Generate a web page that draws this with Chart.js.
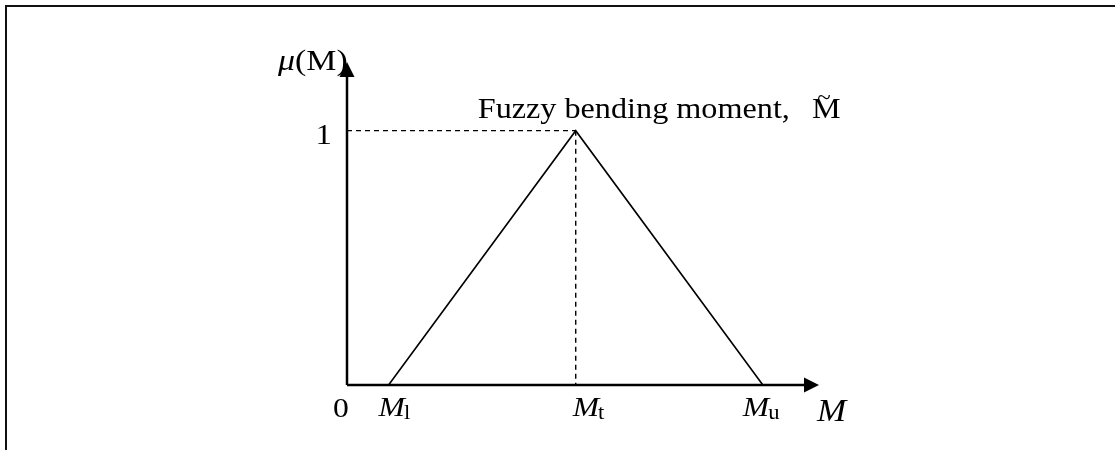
<!DOCTYPE html>
<html>
<head>
<meta charset="utf-8">
<script src="https://cdn.jsdelivr.net/npm/chart.js@4.4.0/dist/chart.umd.min.js"></script>
<style>
  body { margin: 0; background: #fff; }
  #wrap { position: relative; width: 1115px; height: 450px; }
  #frame { position: absolute; left: 5px; top: 5px; right: 0; bottom: 0;
           border-top: 2px solid #111; border-left: 2px solid #111; pointer-events: none; }
  canvas { position: absolute; left: 0; top: 0; }
</style>
</head>
<body>
<div id="wrap">
  <canvas id="chart" width="1115" height="450"></canvas>
  <div id="frame"></div>
</div>
<script>
// fuzzy triangular number (lower, top, upper) in arbitrary units of M
const mLower = 1;
const mTop = 5.5;
const mUpper = 10;
const xMax = 11.35;
const yMax = 1.27;

const triangleX = [mLower, mTop, mUpper];
const triangleY = [0, 1, 0];

const tickValues = [0, mLower, mTop, mUpper];
const tickMain = ["0", "M", "M", "M"];
const tickSub = ["", "l", "t", "u"];
const tickShift = [-14, -10, -3, -20]; // where each label starts, relative to its tick

const titleText = "Fuzzy bending moment,";
const serif = '"Liberation Serif", "Times New Roman", serif';
const stretch = 1.13;

function toPoints(xs, ys) {
  return xs.map((v, i) => ({ x: v, y: ys[i] }));
}

function drawText(ctx, txt, px, py, font, align) {
  ctx.save();
  ctx.font = font;
  ctx.textAlign = align || "left";
  ctx.textBaseline = "alphabetic";
  ctx.translate(px, py);
  ctx.scale(stretch, 1);
  ctx.fillText(txt, 0, 0);
  const w = ctx.measureText(txt).width * stretch;
  ctx.restore();
  return w;
}

const decorPlugin = {
  id: "decor",
  afterDatasetsDraw(chart) {
    const { ctx, scales: { x, y } } = chart;
    const x0 = x.getPixelForValue(0);
    const y0 = y.getPixelForValue(0);
    const xEnd = x.getPixelForValue(xMax);
    const yEnd = y.getPixelForValue(yMax);
    ctx.save();
    ctx.fillStyle = "#000";

    // arrow heads
    ctx.beginPath();
    ctx.moveTo(xEnd, y0);
    ctx.lineTo(xEnd - 15, y0 - 7.5);
    ctx.lineTo(xEnd - 15, y0 + 7.5);
    ctx.closePath();
    ctx.fill();
    ctx.beginPath();
    ctx.moveTo(x0, yEnd);
    ctx.lineTo(x0 - 7.5, yEnd + 15);
    ctx.lineTo(x0 + 7.5, yEnd + 15);
    ctx.closePath();
    ctx.fill();

    // x tick labels
    tickValues.forEach((v, i) => {
      const px = x.getPixelForValue(v) + tickShift[i];
      if (tickSub[i] === "") {
        drawText(ctx, tickMain[i], px, 417, "28px " + serif);
      } else {
        const w = drawText(ctx, tickMain[i], px, 416, "italic 28px " + serif);
        drawText(ctx, tickSub[i], px + w - 1, 419, "20px " + serif);
      }
    });
    drawText(ctx, "M", xEnd - 2, 421, "italic 31px " + serif);

    // y labels
    drawText(ctx, "1", x0 - 15, y.getPixelForValue(1) + 13, "29px " + serif, "right");
    const w = drawText(ctx, "\u03bc", x0 - 69, 70, "italic 30px " + serif);
    drawText(ctx, "(M)", x0 - 69 + w, 70, "30px " + serif);

    // title
    const tx = x.getPixelForValue(mTop) - 98;
    drawText(ctx, titleText, tx, 118, "28.5px " + serif);
    const mx = 812;
    drawText(ctx, "M", mx, 118, "28.5px " + serif);
    drawText(ctx, "~", mx + 12, 104, "22px " + serif, "center");
    ctx.restore();
  }
};

const chart = new Chart(document.getElementById("chart"), {
  type: "scatter",
  data: {
    datasets: [
      { data: toPoints(triangleX, triangleY), showLine: true, borderColor: "#000", borderWidth: 1.6, pointRadius: 0 },
      { data: toPoints([0, mTop], [1, 1]), showLine: true, borderColor: "#000", borderWidth: 1.4, borderDash: [5, 4], pointRadius: 0 },
      { data: toPoints([mTop, mTop], [1, 0]), showLine: true, borderColor: "#000", borderWidth: 1.4, borderDash: [5, 4], pointRadius: 0 },
      { data: toPoints([0, xMax - 0.3], [0, 0]), showLine: true, borderColor: "#000", borderWidth: 2.5, pointRadius: 0 },
      { data: toPoints([0, 0], [0, yMax - 0.05]), showLine: true, borderColor: "#000", borderWidth: 2.5, pointRadius: 0 }
    ]
  },
  options: {
    responsive: false,
    animation: false,
    events: [],
    layout: { padding: { left: 347, right: 296, top: 62, bottom: 65 } },
    plugins: { legend: { display: false }, tooltip: { enabled: false } },
    scales: {
      x: { type: "linear", min: 0, max: xMax, display: false },
      y: { type: "linear", min: 0, max: yMax, display: false }
    },
    elements: { line: { tension: 0 } },
    datasets: { scatter: { clip: false } }
  },
  plugins: [decorPlugin]
});
</script>
</body>
</html>
